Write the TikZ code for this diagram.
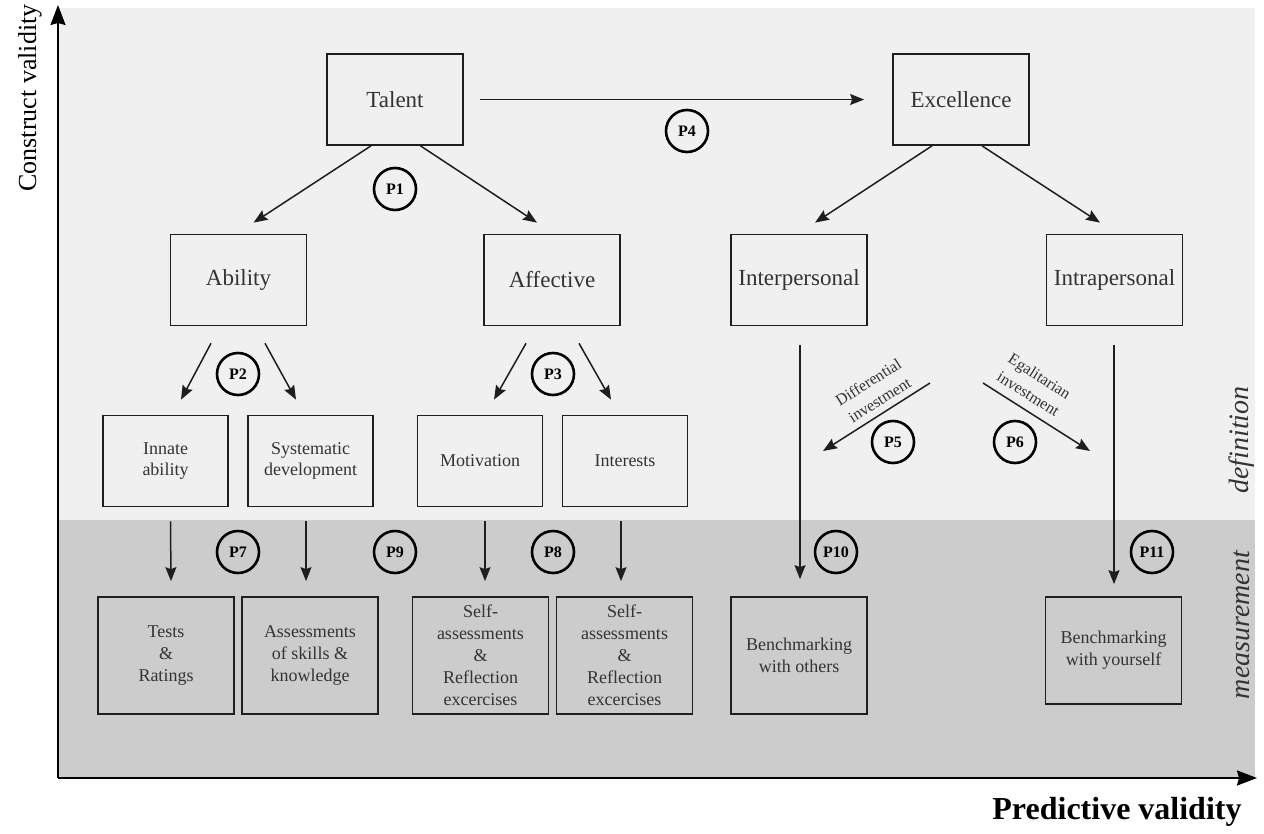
\documentclass[tikz,border=0pt]{standalone}
\usepackage{fontspec}
\setmainfont{Liberation Serif}
\usetikzlibrary{arrows.meta}
\definecolor{bglight}{HTML}{F0F0F0}
\definecolor{bgdark}{HTML}{CCCCCC}
\definecolor{ink}{HTML}{1E1E1E}
\definecolor{txt}{HTML}{333333}
\begin{document}
\begin{tikzpicture}[x=1pt,y=-1pt,
  bigbox/.style={draw=ink, line width=1.7pt, minimum width=136pt, minimum height=91pt, inner sep=0pt, align=center, text=txt, font=\fontsize{23}{27}\selectfont},
  smallbox/.style={draw=ink, line width=1.7pt, minimum width=125pt, minimum height=91pt, inner sep=0pt, align=center, text=txt, font=\fontsize{18}{21}\selectfont},
  lowbox/.style={draw=ink, line width=1.7pt, minimum width=136pt, minimum height=117pt, inner sep=0pt, align=center, text=txt, font=\fontsize{18}{22}\selectfont},
  pcirc/.style={draw=black, circle, line width=2.6pt, minimum size=42pt, inner sep=0pt, font=\bfseries\fontsize{16}{16}\selectfont},
  arr/.style={draw=ink, line width=1.5pt, -{Stealth[length=14pt,width=11pt,inset=2pt]}},
  axisarr/.style={draw=black, line width=1.8pt, -{Stealth[length=20pt,width=15pt,inset=2pt]}},
  difflabel/.style={align=center, text=txt, inner sep=1pt, font=\fontsize{16}{21}\selectfont},
  sidelabel/.style={rotate=90, text=txt, font=\itshape\fontsize{28}{28}\selectfont},
]
\useasboundingbox (0,0) rectangle (1264,833);
% backgrounds
\fill[bglight] (58,8) rectangle (1255,778);
\fill[bgdark] (58,520) rectangle (1255,778);

% axes
\coordinate (origin) at (58,778);
\coordinate (ytip) at (58,5);
\coordinate (xtip) at (1257,778);
\draw[axisarr] (origin) -- (ytip);
\draw[axisarr] (origin) -- (xtip);
\node[rotate=90, text=black, font=\fontsize{26}{26}\selectfont] (ylabel) at (30,98) {Construct validity};
\node[text=black, font=\bfseries\fontsize{32}{32}\selectfont] (xlabel) at (1117,812) {Predictive validity};
\node[sidelabel] (defl) at (1242,440) {definition};
\node[sidelabel] (measl) at (1242,625) {measurement};

% level 1
\node[bigbox] (talent) at (395,99.5) {Talent};
\node[bigbox] (excellence) at (961,99.5) {Excellence};
% level 2
\node[bigbox] (ability) at (238.5,280) {Ability};
\node[bigbox] (affective) at (552,280) {Affective};
\node[bigbox] (inter) at (799,280) {Interpersonal};
\node[bigbox] (intra) at (1114.5,280) {Intrapersonal};
% level 3
\node[smallbox] (innate) at (165.5,461) {Innate\\ability};
\node[smallbox] (system) at (310.5,461) {Systematic\\development};
\node[smallbox] (motiv) at (480,461) {Motivation};
\node[smallbox] (interests) at (625,461) {Interests};
% level 4
\node[lowbox] (tests) at (166,655.5) {Tests\\\&\\Ratings};
\node[lowbox] (assess) at (310,655.5) {Assessments\\of skills \&\\knowledge};
\node[lowbox] (self1) at (480.5,655.5) {Self-\\assessments\\\&\\Reflection\\excercises};
\node[lowbox] (self2) at (624.5,655.5) {Self-\\assessments\\\&\\Reflection\\excercises};
\node[lowbox] (benchO) at (799,655.5) {Benchmarking\\with others};
\node[lowbox, minimum height=107pt] (benchY) at (1113.5,650.5) {Benchmarking\\with yourself};

% P circles
\node[pcirc] (p1) at (395,189) {P1};
\node[pcirc] (p4) at (687,131) {P4};
\node[pcirc] (p2) at (238,374) {P2};
\node[pcirc] (p3) at (553,374) {P3};
\node[pcirc] (p5) at (893,442) {P5};
\node[pcirc] (p6) at (1015,442) {P6};
\node[pcirc] (p7) at (238,552) {P7};
\node[pcirc] (p9) at (395,552) {P9};
\node[pcirc] (p8) at (553,552) {P8};
\node[pcirc] (p10) at (836,552) {P10};
\node[pcirc] (p11) at (1152,552) {P11};

% top arrows
\draw[arr] ([xshift=16pt]talent.east) -- ([xshift=-28pt]excellence.west);
\draw[arr] ([xshift=-24pt]talent.south) -- ([xshift=15pt,yshift=11pt]ability.north);
\draw[arr] ([xshift=25.5pt]talent.south) -- ([xshift=-15pt,yshift=11pt]affective.north);
\draw[arr] ([xshift=-29pt]excellence.south) -- ([xshift=16pt,yshift=11pt]inter.north);
\draw[arr] ([xshift=21pt]excellence.south) -- ([xshift=-14.5pt,yshift=11pt]intra.north);

% P2 / P3 arrows
\draw[arr] ([xshift=-27.5pt,yshift=-17pt]ability.south) -- ([xshift=15.5pt,yshift=15pt]innate.north);
\draw[arr] ([xshift=26.5pt,yshift=-17pt]ability.south) -- ([xshift=-14.5pt,yshift=15pt]system.north);
\draw[arr] ([xshift=-26pt,yshift=-17pt]affective.south) -- ([xshift=14pt,yshift=15pt]motiv.north);
\draw[arr] ([xshift=27pt,yshift=-17pt]affective.south) -- ([xshift=-14pt,yshift=15pt]interests.north);

% vertical arrows to measurement
\draw[arr] ([xshift=5pt,yshift=-14pt]innate.south) -- ([xshift=5pt,yshift=15pt]tests.north);
\draw[arr] ([xshift=-4.5pt,yshift=-14pt]system.south) -- ([xshift=-4pt,yshift=15pt]assess.north);
\draw[arr] ([xshift=5pt,yshift=-14pt]motiv.south) -- ([xshift=4.5pt,yshift=15pt]self1.north);
\draw[arr] ([xshift=-4pt,yshift=-14pt]interests.south) -- ([xshift=-3.5pt,yshift=15pt]self2.north);
\draw[arr] ([xshift=1pt,yshift=-19pt]inter.south) -- ([xshift=1pt,yshift=17pt]benchO.north);
\draw[arr] ([xshift=-0.5pt,yshift=-19pt]intra.south) -- ([xshift=0.5pt,yshift=12pt]benchY.north);

% investment arrows
\coordinate (d1) at (930,383);
\coordinate (d2) at (823,451);
\coordinate (e1) at (983,383);
\coordinate (e2) at (1090,451);
\draw[arr] (d1) -- (d2);
\draw[arr] (e1) -- (e2);
\node[difflabel, rotate=32.4] (difflab) at (874,391) {Differential\\investment};
\node[difflabel, rotate=-32.4] (egallab) at (1034,385) {Egalitarian\\investment};
\end{tikzpicture}
\end{document}
